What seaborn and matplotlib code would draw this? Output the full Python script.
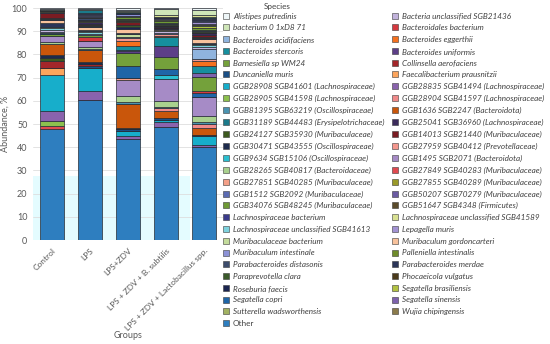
import matplotlib
matplotlib.use("Agg")
import matplotlib.pyplot as plt
from matplotlib.patches import Patch, Rectangle
import pandas as pd
import seaborn as sns

groups = ["Control", "LPS", "LPS+ZDV", "LPS + ZDV + B. subtilis",
          "LPS + ZDV + Lactobacillus spp."]

# stacking order, bottom to top
species = [
    "Other", "GGB27849 SGB40283 (Muribaculaceae)", "GGB28905 SGB41598 (Lachnospiraceae)",
    "GGB28835 SGB41494 (Lachnospiraceae)", "GGB28908 SGB41601 (Lachnospiraceae)",
    "Faecalibacterium prausnitzii", "Duncaniella muris", "Collinsella aerofaciens",
    "GGB24127 SGB35930 (Muribaculaceae)", "GGB30471 SGB43555 (Oscillospiraceae)",
    "GGB1636 SGB2247 (Bacteroidota)", "GGB28904 SGB41597 (Lachnospiraceae)",
    "GGB81395 SGB63219 (Oscillospiraceae)", "GGB28265 SGB40817 (Bacteroidaceae)",
    "GGB1495 SGB2071 (Bacteroidota)", "GGB27851 SGB40285 (Muribaculaceae)",
    "GGB9634 SGB15106 (Oscillospiraceae)", "Segatella copri", "Bacteroidales bacterium",
    "Barnesiella sp WM24", "Bacteroides uniformis", "Segatella sinensis",
    "Bacteroides stercoris", "Bacteroides eggerthii",
    "GGB27959 SGB40412 (Prevotellaceae)", "Bacteroides acidifaciens",
    "Bacteria unclassified SGB21436", "Lachnospiraceae unclassified SGB41613",
    "Muribaculaceae bacterium", "Parabacteroides merdae", "Muribaculum gordoncarteri",
    "Roseburia faecis", "Paraprevotella clara", "GGB14013 SGB21440 (Muribaculaceae)",
    "GGB25041 SGB36960 (Lachnospiraceae)", "GGB27855 SGB40289 (Muribaculaceae)",
    "Phocaeicola vulgatus", "Palleniella intestinalis", "Parabacteroides distasonis",
    "GGB34076 SGB48245 (Muribaculaceae)", "GGB51647 SGB4348 (Firmicutes)",
    "Segatella brasiliensis", "Sutterella wadsworthensis", "Wujia chipingensis",
    "Lepagella muris", "Muribaculum intestinale", "GGB1512 SGB2092 (Muribaculaceae)",
    "Lachnospiraceae bacterium", "GGB50207 SGB70279 (Muribaculaceae)",
    "GGB31189 SGB44483 (Erysipelotrichaceae)", "Lachnospiraceae unclassified SGB41589",
    "bacterium 0 1xD8 71", "Alistipes putredinis",
]

colors = [
    "#2e7ebf", "#e04a50", "#8cc04e", "#8a63ad", "#17aecb",
    "#fca55d", "#1b4f85", "#a3262a", "#3d5a1f", "#1d2b4d",
    "#c9560b", "#f08a8a", "#4a93b0", "#a9d18e", "#a68bc6",
    "#f4a088", "#2bbfd0", "#1f65a7", "#d4393f", "#74a13b",
    "#5d3f88", "#7e62ad", "#168f9e", "#f4701f", "#f4978e",
    "#8fb4de", "#c2b3dc", "#7ed2de", "#c4dc9c", "#2b3558",
    "#f8c29c", "#1b2550", "#3b5a2b", "#7a1c22", "#3b2b5c",
    "#9a9a2a", "#4b3b1b", "#6e8b2a", "#3d4c6c", "#6f9a35",
    "#5b4b2b", "#b2c242", "#a2b262", "#8b7b4b", "#a292d2",
    "#8c92d6", "#5b6bb2", "#3b3b8b", "#6b5ba2", "#1b7a8a",
    "#d9e192", "#cfe6b8", "#eef6f8",
]

# abundance, %, in the stacking order above
control = [48.0, 1.2, 2.2, 4.4, 15.2, 3.3, 0, 2.9, 1.3, 1.4, 4.4, 0, 0, 0.9, 2.6, 0, 0, 0, 0, 1.2, 0, 0, 0.3, 0,
           0, 0.3, 1.0, 1.0, 0.4, 1.4, 1.5, 0.5, 0.5, 1.8, 0.6, 0.2, 0.2, 0.1, 0.1, 0, 0.1, 0, 0, 0.1, 0.1,
           0, 0, 0, 0, 0.1, 0, 0.2, 0.5]
lps = [60.3, 0, 0, 4.1, 9.6, 0, 1.2, 0.8, 0, 0.8, 5.1, 0, 0.5, 0.9, 2.5, 0, 0, 0, 1.8, 0.8, 0, 0, 0, 0,
       0, 0, 0.5, 0.8, 0.2, 0.7, 1.1, 0.6, 0.3, 0.3, 1.0, 0.6, 0.3, 0.2, 0.7, 0.2, 0.1, 0, 0.1, 0.1, 0.2,
       0.7, 0.2, 0.2, 0.2, 1.5, 0, 0.3, 0.5]
lps_zdv = [43.5, 0, 0, 1.5, 2.0, 0, 1.0, 0, 0, 0.4, 10.4, 0, 0.8, 2.6, 6.8, 0.8, 0, 5.0, 0, 5.6, 1.2, 0.3, 1.8, 2.0,
           1.4, 0, 0.3, 0, 1.5, 0.3, 1.8, 0.9, 0.7, 1.2, 0.3, 0.3, 0.3, 0.4, 0.2, 0.8, 0.2, 0.1, 0.1, 0.1, 0.1,
           0.7, 0.1, 0.2, 0.2, 0.2, 0.5, 0.4, 1.0]
zdv_bsub = [48.8, 0, 0, 1.9, 1.2, 0, 0.5, 0, 0, 0.3, 3.0, 1.0, 0.8, 2.3, 9.4, 0, 1.8, 2.8, 0, 5.3, 4.4, 0, 3.9, 0.6,
            0.6, 0.8, 0.5, 0.3, 0.2, 0.2, 0.3, 0.4, 0.3, 0.2, 0.3, 0.3, 0.3, 0.2, 0.5, 0.8, 0.3, 0.3, 0.3, 0.2, 0.2,
            0.2, 0.1, 0.3, 0.1, 0.1, 0.6, 2.6, 0.5]
zdv_lacto = [40.0, 0, 0, 0.9, 3.9, 0, 0.3, 0, 0, 0.2, 2.8, 2.0, 0.9, 2.4, 8.4, 0, 0, 1.7, 0.9, 5.7, 0, 2.0, 2.9, 2.0,
             1.0, 4.2, 1.2, 0.5, 0.6, 0.5, 1.6, 0.6, 0.5, 0.8, 0.6, 0.3, 0.3, 0.3, 0.6, 0.6, 0.4, 0.6, 0.5, 0.5, 0.6,
             0.5, 0.4, 0.6, 0.4, 0.6, 0.8, 1.9, 1.0]

legend_left = [
    "Alistipes putredinis", "bacterium 0 1xD8 71", "Bacteroides acidifaciens",
    "Bacteroides stercoris", "Barnesiella sp WM24", "Duncaniella muris",
    "GGB28908 SGB41601 (Lachnospiraceae)", "GGB28905 SGB41598 (Lachnospiraceae)",
    "GGB81395 SGB63219 (Oscillospiraceae)", "GGB31189 SGB44483 (Erysipelotrichaceae)",
    "GGB24127 SGB35930 (Muribaculaceae)", "GGB30471 SGB43555 (Oscillospiraceae)",
    "GGB9634 SGB15106 (Oscillospiraceae)", "GGB28265 SGB40817 (Bacteroidaceae)",
    "GGB27851 SGB40285 (Muribaculaceae)", "GGB1512 SGB2092 (Muribaculaceae)",
    "GGB34076 SGB48245 (Muribaculaceae)", "Lachnospiraceae bacterium",
    "Lachnospiraceae unclassified SGB41613", "Muribaculaceae bacterium",
    "Muribaculum intestinale", "Parabacteroides distasonis", "Paraprevotella clara",
    "Roseburia faecis", "Segatella copri", "Sutterella wadsworthensis", "Other",
]
legend_right = [
    "Bacteria unclassified SGB21436", "Bacteroidales bacterium", "Bacteroides eggerthii",
    "Bacteroides uniformis", "Collinsella aerofaciens", "Faecalibacterium prausnitzii",
    "GGB28835 SGB41494 (Lachnospiraceae)", "GGB28904 SGB41597 (Lachnospiraceae)",
    "GGB1636 SGB2247 (Bacteroidota)", "GGB25041 SGB36960 (Lachnospiraceae)",
    "GGB14013 SGB21440 (Muribaculaceae)", "GGB27959 SGB40412 (Prevotellaceae)",
    "GGB1495 SGB2071 (Bacteroidota)", "GGB27849 SGB40283 (Muribaculaceae)",
    "GGB27855 SGB40289 (Muribaculaceae)", "GGB50207 SGB70279 (Muribaculaceae)",
    "GGB51647 SGB4348 (Firmicutes)", "Lachnospiraceae unclassified SGB41589",
    "Lepagella muris", "Muribaculum gordoncarteri", "Palleniella intestinalis",
    "Parabacteroides merdae", "Phocaeicola vulgatus", "Segatella brasiliensis",
    "Segatella sinensis", "Wujia chipingensis",
]

rows = []
for g, vals in zip(groups, [control, lps, lps_zdv, zdv_bsub, zdv_lacto]):
    for sp, v in zip(species, vals):
        rows.append({"group": g, "species": sp, "abundance": v})
df = pd.DataFrame(rows)
df["group"] = pd.Categorical(df["group"], categories=groups, ordered=True)

palette = dict(zip(species, colors))

sns.set_style("white")
plt.rcParams["font.family"] = ["Lato", "DejaVu Sans"]
text_col = "#595959"

fig = plt.figure(figsize=(5.5, 3.44), dpi=100)
ax = fig.add_axes([0.06, 0.3023, 0.3455, 0.6744])

# faint cyan patch seen behind the lower part of the bars
ax.add_patch(Rectangle((-0.5, 0), 4.13, 27.5, color="#e4fcff", zorder=0.2, lw=0))

# seaborn stacks the last hue level at the bottom
sns.histplot(data=df, x="group", weights="abundance", hue="species",
             hue_order=species[::-1], palette=palette, multiple="stack",
             discrete=True, shrink=0.63, alpha=1, edgecolor="#262b33",
             linewidth=0.5, legend=False, ax=ax)

ax.set_xlim(-0.5, 4.5)
ax.set_ylim(0, 100)
ax.set_yticks(range(0, 101, 10))
ax.yaxis.grid(True, color="#dedede", linewidth=0.6, zorder=0.5)
ax.set_axisbelow(True)
for s in ax.spines.values():
    s.set_visible(False)
ax.tick_params(axis="y", length=0, labelsize=6.5, colors=text_col, pad=4)
ax.tick_params(axis="x", length=0, labelsize=6.0, colors=text_col, pad=5)
ax.set_xticks(range(len(groups)))
ax.set_xticklabels(groups, rotation=45, ha="right", rotation_mode="anchor")
ax.set_ylabel("Abundance, %", fontsize=6.5, color=text_col)
ax.yaxis.set_label_coords(-0.125, 0.5)
ax.set_xlabel("")
fig.text(128 / 550, 1 - 335 / 344, "Groups", ha="center", va="center",
         fontsize=6.5, color=text_col)

# legend in two columns, alphabetical, "Other" last
def handles_for(names):
    return [Patch(facecolor=palette[n], edgecolor="#3a3a3a", linewidth=0.4) for n in names]

for names, x0 in [(legend_left, 223), (legend_right, 392)]:
    leg = fig.legend(handles_for(names), names, loc="upper left",
                     bbox_to_anchor=(x0 / 550, 1 - 12.5 / 344), frameon=False,
                     fontsize=5.9, handlelength=0.75, handleheight=0.75,
                     handletextpad=0.45, labelspacing=0.58, borderpad=0,
                     borderaxespad=0, labelcolor="#404040")
    for t in leg.get_texts():
        if t.get_text() != "Other":
            t.set_fontstyle("italic")

fig.text(277 / 550, 1 - 7 / 344, "Species", ha="center", va="center",
         fontsize=5.9, color="#404040")

fig.savefig("out.png", dpi=100)
